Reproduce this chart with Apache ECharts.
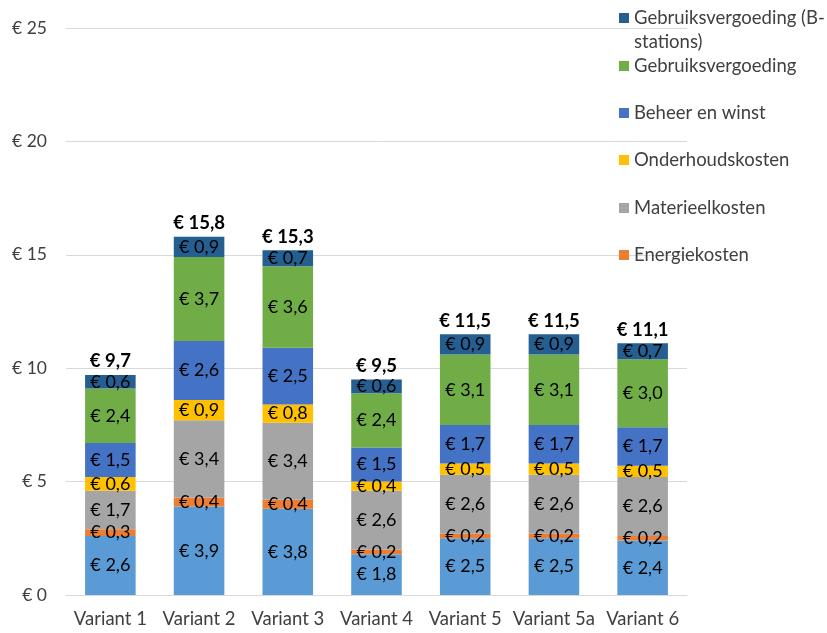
<!DOCTYPE html>
<html>
<head>
<meta charset="utf-8">
<script src="https://cdn.jsdelivr.net/npm/echarts@6/dist/echarts.min.js"></script>
<style>
  html, body { margin: 0; padding: 0; background: #fff; }
  #chart { width: 827px; height: 633px; }
</style>
</head>
<body>
<div id="chart"></div>
<script>
// Categories and cost components (euro per unit), bottom to top in the stack
const categories = ['Variant 1', 'Variant 2', 'Variant 3', 'Variant 4', 'Variant 5', 'Variant 5a', 'Variant 6'];
const kapitaallasten      = [2.6, 3.9, 3.8, 1.8, 2.5, 2.5, 2.4];
const energiekosten       = [0.3, 0.4, 0.4, 0.2, 0.2, 0.2, 0.2];
const materieelkosten     = [1.7, 3.4, 3.4, 2.6, 2.6, 2.6, 2.6];
const onderhoudskosten    = [0.6, 0.9, 0.8, 0.4, 0.5, 0.5, 0.5];
const beheerEnWinst       = [1.5, 2.6, 2.5, 1.5, 1.7, 1.7, 1.7];
const gebruiksvergoeding  = [2.4, 3.7, 3.6, 2.4, 3.1, 3.1, 3.0];
const gebruiksvergoedingB = [0.6, 0.9, 0.7, 0.6, 0.9, 0.9, 0.7];
const totals              = [9.7, 15.8, 15.3, 9.5, 11.5, 11.5, 11.1];
const yTicks = { min: 0, max: 25, interval: 5 };

const FONT = 'Lato';
const euro = v => '€ ' + Number(v).toFixed(1).replace('.', ',');

const seriesDefs = [
  { name: 'Kapitaallasten', data: kapitaallasten, color: '#5B9BD5' },
  { name: 'Energiekosten', data: energiekosten, color: '#ED7D31' },
  { name: 'Materieelkosten', data: materieelkosten, color: '#A5A5A5' },
  { name: 'Onderhoudskosten', data: onderhoudskosten, color: '#FFC000' },
  { name: 'Beheer en winst', data: beheerEnWinst, color: '#4472C4' },
  { name: 'Gebruiksvergoeding', data: gebruiksvergoeding, color: '#70AD47' },
  { name: 'Gebruiksvergoeding (B-stations)', data: gebruiksvergoedingB, color: '#255E91' }
];

const series = seriesDefs.map(s => ({
  name: s.name,
  type: 'bar',
  stack: 'kosten',
  barWidth: '57%',
  data: s.data,
  itemStyle: { color: s.color },
  label: {
    show: true,
    position: 'inside',
    formatter: p => euro(p.value),
    color: '#000',
    fontFamily: FONT,
    fontSize: 18
  },
  emphasis: { disabled: true }
}));

// Zero-height segment on top of each stack carrying the total label
series.push({
  name: 'Totaal',
  type: 'bar',
  stack: 'kosten',
  barWidth: '57%',
  data: totals.map(() => 0),
  itemStyle: { color: 'transparent' },
  label: {
    show: true,
    position: 'top',
    distance: 4,
    formatter: p => euro(totals[p.dataIndex]),
    color: '#000',
    fontFamily: FONT,
    fontSize: 18.5,
    fontWeight: 'bold'
  },
  emphasis: { disabled: true }
});

// One legend block per entry so each row sits at its own height
const legendRows = [
  { name: 'Gebruiksvergoeding (B-stations)', y: 18, twoLine: true },
  { name: 'Gebruiksvergoeding', y: 66 },
  { name: 'Beheer en winst', y: 113 },
  { name: 'Onderhoudskosten', y: 160 },
  { name: 'Materieelkosten', y: 208 },
  { name: 'Energiekosten', y: 255 }
];

const legends = legendRows.map(r => ({
  data: [r.name],
  left: 619,
  // leading blank line keeps the first text line level with the icon
  top: r.twoLine ? r.y - 36 : r.y - 12,
  orient: 'vertical',
  padding: 0,
  icon: 'rect',
  itemWidth: 10,
  itemHeight: 10,
  itemGap: 0,
  selectedMode: false,
  formatter: r.twoLine ? '\nGebruiksvergoeding (B-\nstations)' : '{name}',
  textStyle: {
    color: '#404040',
    fontFamily: FONT,
    fontSize: 18.5,
    lineHeight: 24
  }
}));

const chart = echarts.init(document.getElementById('chart'), null, { renderer: 'canvas' });
chart.setOption({
  animation: false,
  backgroundColor: '#fff',
  grid: { left: 66, right: 140, top: 28, bottom: 38, containLabel: false },
  legend: legends,
  xAxis: {
    type: 'category',
    data: categories,
    axisLine: { lineStyle: { color: '#D9D9D9', width: 1 } },
    axisTick: { show: false },
    axisLabel: { color: '#404040', fontFamily: FONT, fontSize: 18.5, margin: 15, interval: 0 }
  },
  yAxis: {
    type: 'value',
    min: yTicks.min,
    max: yTicks.max,
    interval: yTicks.interval,
    axisLine: { show: false },
    axisTick: { show: false },
    splitLine: { lineStyle: { color: '#D9D9D9', width: 1 } },
    axisLabel: { color: '#404040', fontFamily: FONT, fontSize: 17.5, margin: 19, formatter: v => '€ ' + v }
  },
  series: series
});
</script>
</body>
</html>
